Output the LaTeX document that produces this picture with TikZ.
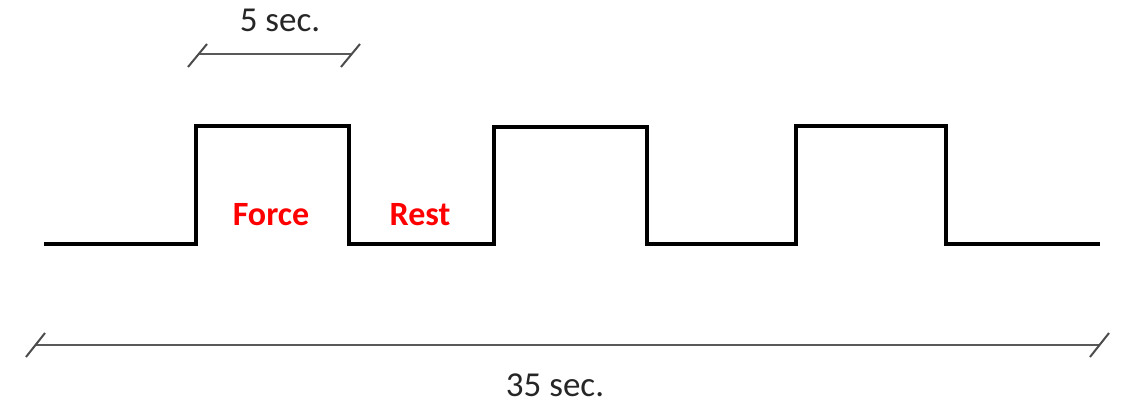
\documentclass[tikz,border=0pt]{standalone}
\usepackage{fontspec}
\setmainfont{Carlito}
\usetikzlibrary{calc}
\begin{document}
\begin{tikzpicture}[x=1pt,y=-1pt,
  wave/.style={line width=4pt,black,line join=miter},
  dimline/.style={line width=1.8pt,black!65},
  tick/.style={line width=2pt,black!70},
  dimlabel/.style={font=\fontsize{35}{40}\selectfont,text=black!85,inner sep=0pt},
  phase/.style={font=\fontsize{34}{40}\selectfont\bfseries,text=red,inner sep=0pt}]
\useasboundingbox (0,0) rectangle (1126,403);

% square wave: three force phases separated by rest phases
\draw[wave] (44,244) -- (196,244) -- (196,126) -- (349,126) -- (349,244)
  -- (494,244) -- (494,127) -- (647,127) -- (647,244)
  -- (796,244) -- (796,126) -- (946,126) -- (946,244) -- (1100,244);

\node[phase] (force) at (271,215) {Force};
\node[phase] (rest) at (420,215) {Rest};

% duration of one phase
\coordinate (pa) at (198,54);
\coordinate (pb) at (351,54);
\draw[dimline] (pa) -- (pb);
\draw[tick] ($(pa)+(-10,13)$) -- ($(pa)+(9,-10)$);
\draw[tick] ($(pb)+(-10,13)$) -- ($(pb)+(9,-10)$);
\node[dimlabel] (five) at (280,20) {5 sec.};

% total duration
\coordinate (ta) at (36,345);
\coordinate (tb) at (1100,345);
\draw[dimline] (ta) -- (tb);
\draw[tick] ($(ta)+(-10,12)$) -- ($(ta)+(9,-12)$);
\draw[tick] ($(tb)+(-10,12)$) -- ($(tb)+(9,-12)$);
\node[dimlabel] (total) at (555,385) {35 sec.};
\end{tikzpicture}
\end{document}
